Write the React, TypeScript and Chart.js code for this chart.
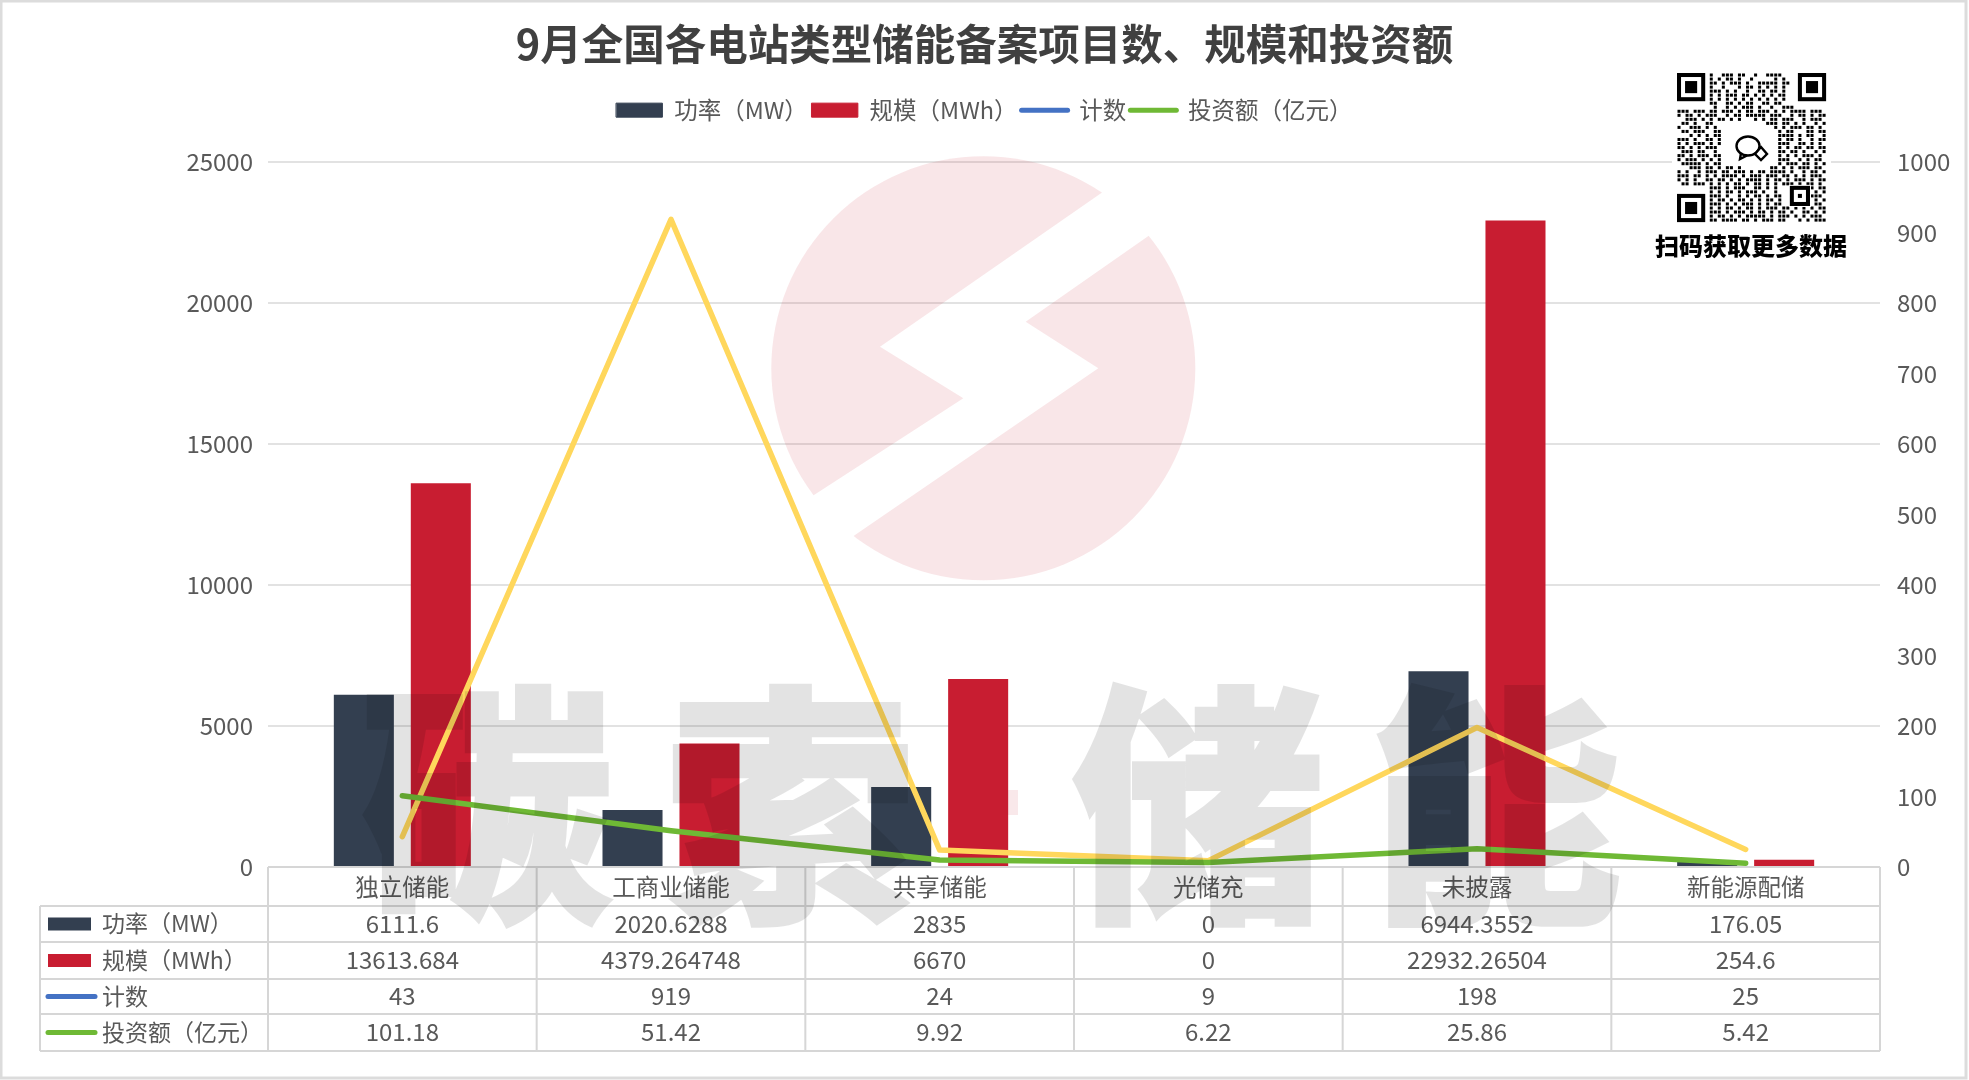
import React, { useEffect, useRef } from "react";
import { Chart, registerables } from "chart.js";

Chart.register(...registerables);

const FONT = '"Noto Sans CJK SC", "Noto Sans", sans-serif';
const TEXT_COLOR = "#595959";
const LINE_COLOR = "#d6d6d6";

const titleText = "9月全国各电站类型储能备案项目数、规模和投资额";
const categories = ["独立储能", "工商业储能", "共享储能", "光储充", "未披露", "新能源配储"];
const powerMW = [6111.6, 2020.6288, 2835, 0, 6944.3552, 176.05];
const scaleMWh = [13613.684, 4379.264748, 6670, 0, 22932.26504, 254.6];
const countValues = [43, 919, 24, 9, 198, 25];
const investValues = [101.18, 51.42, 9.92, 6.22, 25.86, 5.42];

const seriesNames = ["功率（MW）", "规模（MWh）", "计数", "投资额（亿元）"];
const seriesColors = ["#333F50", "#C81D31", "#FFD75C", "#6FB935"];
const keyColors = ["#333F50", "#C81D31", "#4472C4", "#6FB935"];
const keyStyles = ["rect", "rect", "line", "line"];
const seriesValues = [powerMW, scaleMWh, countValues, investValues];

const tableRowLines = [867, 906, 942, 979, 1014, 1051];
const tableLeft = 40;

const watermarkChars = ["碳", "索", "储", "能"];
const watermarkCenters = [487, 790, 1198, 1495];

const qrCaption = "扫码获取更多数据";
const qrRows = [
  "........#..###.##..#..####...........",
  "........#.#.##.#..#.....#.#..........",
  "........##.#.###.#..#####.##.........",
  "........#..#...#.##.#.#.#.#..........",
  "........###.#.#..#..##.##.#..........",
  "........#.#.###.##.#.#.#.##..........",
  "........#.#.#.#.#.#.#.#.#.#..........",
  "........##..##.#.##..##.##...........",
  ".........#..#.#.###.#..#..###........",
  "###.###.##.###.#.##.###.#.#.####.###.",
  "#.##.#.###..#.##.#####.###..#.##.#.##",
  "..###.#.#.##.#.#...#.#.##.###..#.###.",
  ".##.#..##.............###.##.#.#..#.#",
  "#..###.#.#..............#.#.###.##.#.",
  ".##.###..##..............#.##...##.##.",
  "...#.#.#.##..............####.#.##..#",
  "###.#..##.#..............#.##.#..#.##",
  "#.#.###.#.#..............###..##.#.#.",
  "##.#.#.###...............#.#.##.##.##",
  ".###.##..#...............##.##.#..#.#",
  "##.#.###.##..............#.#.#.###.#.",
  "#.###.#.#.#..............###..#.#.##.",
  ".#####.#.##..............#.###.##.#.#",
  "...###.##.#.##.#.......##.#.#.###.##.",
  "#.#..#.###.##.###.#.##.####.#..#.##.#",
  "###.##.#.#.####.#.###.###.##.#.#.###.",
  "#.#.#..##.##.#.#.####.#.##.#.###.#.##",
  ".##.###.#.#.#.##.#.##.#.#.###.#.##.#.",
  "........###.#.###..##.#.#......#.#.##",
  "........#.#.##.#.###.#..#......##.#.#",
  "........###.#..#.#.##.#.##.....#.###.",
  "........#.##.#.##.#.#.##.#.....##.#.#",
  "........###.#.#.###.#.#.##...##.#.##.",
  "........#.#.##.#.##.#.###.##.#.#.#.##",
  "........###.#.###.#.##.#.##.#..##.#.#",
  "........#.##.#.#.#####.#.###.#.#.###.",
  "........##.####.##.#.###.##...#.#.###",
];

const pageBackground = {
  id: "pageBackground",
  beforeDraw(chart: any) {
    const { ctx, width, height } = chart;
    ctx.save();
    ctx.fillStyle = "#ffffff";
    ctx.fillRect(0, 0, width, height);
    ctx.strokeStyle = "#dcdcdc";
    ctx.lineWidth = 3;
    ctx.strokeRect(1, 1, width - 4, height - 3);
    ctx.restore();
  },
};

const logoWatermark = {
  id: "logoWatermark",
  beforeDatasetsDraw(chart: any) {
    const { ctx } = chart;
    const px = (x: number) => 740 + x / 3;
    const py = (y: number) => 140 + y / 3;
    const cut = [
      [1283, 20], [1083, 160], [420, 620], [670, 775], [222, 1065], [72, 1162],
      [195, 1288], [345, 1185], [1075, 685], [857, 545], [1222, 290], [1422, 150],
    ];
    ctx.save();
    ctx.beginPath();
    ctx.arc(983.3, 368.3, 212, 0, Math.PI * 2);
    ctx.clip();
    ctx.beginPath();
    ctx.rect(700, 100, 600, 600);
    cut.forEach(([x, y], i) => (i ? ctx.lineTo(px(x), py(y)) : ctx.moveTo(px(x), py(y))));
    ctx.closePath();
    ctx.fillStyle = "rgba(200, 30, 50, 0.11)";
    ctx.fill("evenodd");
    ctx.restore();
  },
};

const dataTable = {
  id: "dataTable",
  beforeDatasetsDraw(chart: any) {
    const { ctx, chartArea, scales } = chart;
    const colW = chartArea.width / categories.length;
    ctx.save();
    ctx.strokeStyle = LINE_COLOR;
    ctx.lineWidth = 2;
    ctx.beginPath();
    tableRowLines.forEach((y, i) => {
      ctx.moveTo(i === 0 ? chartArea.left : tableLeft, y);
      ctx.lineTo(chartArea.right, y);
    });
    for (let i = 0; i <= categories.length; i++) {
      const x = chartArea.left + i * colW;
      ctx.moveTo(x, tableRowLines[0]);
      ctx.lineTo(x, tableRowLines[5]);
    }
    ctx.moveTo(tableLeft, tableRowLines[1]);
    ctx.lineTo(tableLeft, tableRowLines[5]);
    ctx.stroke();

    ctx.textBaseline = "middle";
    seriesNames.forEach((name, r) => {
      const cy = (tableRowLines[r + 1] + tableRowLines[r + 2]) / 2 - 0.5;
      if (keyStyles[r] === "rect") {
        ctx.fillStyle = keyColors[r];
        ctx.fillRect(48, cy - 6, 43, 13);
      } else {
        ctx.strokeStyle = keyColors[r];
        ctx.lineWidth = 5;
        ctx.lineCap = "round";
        ctx.beginPath();
        ctx.moveTo(48, cy + 0.5);
        ctx.lineTo(95, cy + 0.5);
        ctx.stroke();
      }
      ctx.fillStyle = TEXT_COLOR;
      ctx.textAlign = "left";
      ctx.font = `23px ${FONT}`;
      ctx.fillText(name, 102, cy);
      ctx.textAlign = "center";
      ctx.font = `24px ${FONT}`;
      seriesValues[r].forEach((v, c) => {
        ctx.fillText(String(v), scales.x.getPixelForValue(c), cy);
      });
    });
    ctx.restore();
  },
};

const topWatermark = {
  id: "topWatermark",
  afterDraw(chart: any) {
    const { ctx, width, height } = chart;
    const off = document.createElement("canvas");
    off.width = width;
    off.height = height;
    const o = off.getContext("2d") as CanvasRenderingContext2D;
    o.font = `900 252px ${FONT}`;
    o.textAlign = "center";
    o.textBaseline = "middle";
    o.fillStyle = "#000";
    o.strokeStyle = "#000";
    o.lineWidth = 4;
    o.lineJoin = "miter";
    watermarkChars.forEach((ch, i) => {
      o.fillText(ch, watermarkCenters[i], 806);
      o.strokeText(ch, watermarkCenters[i], 806);
    });
    ctx.save();
    ctx.globalAlpha = 0.105;
    ctx.drawImage(off, 0, 0);
    ctx.globalAlpha = 1;
    ctx.fillStyle = "rgba(200, 30, 50, 0.1)";
    ctx.fillRect(1000, 790, 18, 25);
    ctx.restore();
  },
};

const qrBlock = {
  id: "qrBlock",
  afterDraw(chart: any) {
    const { ctx } = chart;
    const x0 = 1677;
    const y0 = 73;
    const m = 4.03;
    ctx.save();
    ctx.fillStyle = "#ffffff";
    ctx.fillRect(1672, 68, 159, 160);
    ctx.fillStyle = "#000000";
    qrRows.forEach((row, r) => {
      for (let c = 0; c < row.length && c < 37; c++) {
        if (row[c] === "#") ctx.fillRect(x0 + c * m + 0.5, y0 + r * m + 0.5, m - 1, m - 1);
      }
    });
    const finder = (cx: number, cy: number) => {
      const fx = x0 + cx * m;
      const fy = y0 + cy * m;
      ctx.fillStyle = "#ffffff";
      ctx.fillRect(fx - m, fy - m, 9 * m, 9 * m);
      ctx.fillStyle = "#000000";
      ctx.fillRect(fx, fy, 7 * m, 7 * m);
      ctx.fillStyle = "#ffffff";
      ctx.fillRect(fx + m, fy + m, 5 * m, 5 * m);
      ctx.fillStyle = "#000000";
      ctx.fillRect(fx + 2 * m, fy + 2 * m, 3 * m, 3 * m);
    };
    finder(0, 0);
    finder(30, 0);
    finder(0, 30);
    const ax = x0 + 28 * m;
    const ay = y0 + 28 * m;
    ctx.fillStyle = "#ffffff";
    ctx.fillRect(ax - 1, ay - 1, 5 * m + 2, 5 * m + 2);
    ctx.fillStyle = "#000000";
    ctx.fillRect(ax, ay, 5 * m, 5 * m);
    ctx.fillStyle = "#ffffff";
    ctx.fillRect(ax + m, ay + m, 3 * m, 3 * m);
    ctx.fillStyle = "#000000";
    ctx.fillRect(ax + 2 * m, ay + 2 * m, m, m);

    ctx.strokeStyle = "#000000";
    ctx.lineWidth = 2.4;
    ctx.beginPath();
    ctx.ellipse(1748, 146, 11.5, 9.5, 0, 0, Math.PI * 2);
    ctx.stroke();
    ctx.beginPath();
    ctx.moveTo(1741, 153);
    ctx.lineTo(1740, 159);
    ctx.lineTo(1747, 155.5);
    ctx.stroke();
    ctx.fillStyle = "#ffffff";
    ctx.beginPath();
    ctx.moveTo(1761, 147);
    ctx.lineTo(1767, 154);
    ctx.lineTo(1761, 160);
    ctx.lineTo(1755, 154);
    ctx.closePath();
    ctx.fill();
    ctx.stroke();

    ctx.fillStyle = "#000000";
    ctx.font = `900 24px ${FONT}`;
    ctx.textAlign = "center";
    ctx.textBaseline = "middle";
    ctx.fillText(qrCaption, 1751, 246);
    ctx.restore();
  },
};

export default function App() {
  const ref = useRef<HTMLCanvasElement | null>(null);

  useEffect(() => {
    if (!ref.current) return;
    const lineBase = {
      type: "line" as const,
      yAxisID: "y1",
      borderWidth: 5.5,
      pointRadius: 0,
      tension: 0,
      borderCapStyle: "round" as const,
      borderJoinStyle: "round" as const,
      fill: false,
    };
    const barBase = {
      type: "bar" as const,
      yAxisID: "y",
      barPercentage: 0.78,
      categoryPercentage: 0.573,
    };
    const chart = new Chart(ref.current, {
      data: {
        labels: categories,
        datasets: [
          { ...barBase, label: seriesNames[0], data: powerMW, backgroundColor: seriesColors[0], order: 2 },
          { ...barBase, label: seriesNames[1], data: scaleMWh, backgroundColor: seriesColors[1], order: 3 },
          { ...lineBase, label: seriesNames[2], data: countValues, borderColor: seriesColors[2], backgroundColor: seriesColors[2], order: 1 },
          { ...lineBase, label: seriesNames[3], data: investValues, borderColor: seriesColors[3], backgroundColor: seriesColors[3], order: 0 },
        ],
      } as any,
      options: {
        responsive: false,
        animation: false,
        devicePixelRatio: 1,
        font: { family: FONT },
        layout: { padding: 0 },
        plugins: {
          tooltip: { enabled: false },
          title: {
            display: true,
            text: titleText,
            color: "#404040",
            font: { family: FONT, size: 41.5, weight: "bold" },
            padding: { top: 19, bottom: 25.6 },
          },
          subtitle: {
            display: true,
            text: "",
            weight: 500,
            font: { size: 1 },
            padding: { top: 0, bottom: 29.2 },
          },
          legend: {
            display: true,
            position: "top",
            labels: {
              usePointStyle: true,
              pointStyleWidth: 46,
              boxHeight: 14,
              padding: 4,
              color: TEXT_COLOR,
              font: { family: FONT, size: 23.5 },
              generateLabels: () =>
                seriesNames.map((name, i) => ({
                  text: name,
                  fillStyle: keyColors[i],
                  strokeStyle: keyColors[i],
                  fontColor: TEXT_COLOR,
                  lineWidth: keyStyles[i] === "line" ? 5 : 1,
                  lineCap: "round",
                  pointStyle: keyStyles[i],
                  hidden: false,
                  datasetIndex: i,
                })) as any,
            },
          },
        },
        scales: {
          x: {
            offset: true,
            grid: { display: false },
            border: { display: false },
            ticks: {
              color: TEXT_COLOR,
              font: { family: FONT, size: 23.5 },
              padding: -2.5,
              autoSkip: false,
              maxRotation: 0,
              minRotation: 0,
            },
            afterFit: (s: any) => {
              s.height = 213;
            },
          },
          y: {
            position: "left",
            min: 0,
            max: 25000,
            grid: { color: "#e2e2e2", lineWidth: 2, drawTicks: false },
            border: { display: false },
            ticks: {
              stepSize: 5000,
              format: { useGrouping: false },
              color: TEXT_COLOR,
              font: { family: FONT, size: 24 },
              padding: 15,
            },
            afterFit: (s: any) => {
              s.width = 268;
            },
          },
          y1: {
            position: "right",
            min: 0,
            max: 1000,
            grid: { display: false, drawTicks: false },
            border: { display: false },
            ticks: {
              stepSize: 100,
              format: { useGrouping: false },
              color: TEXT_COLOR,
              font: { family: FONT, size: 24 },
              padding: 17,
            },
            afterFit: (s: any) => {
              s.width = 89;
            },
          },
        },
      } as any,
      plugins: [pageBackground, logoWatermark, dataTable, topWatermark, qrBlock],
    });
    return () => chart.destroy();
  }, []);

  return (
    <canvas
      ref={ref}
      width={1969}
      height={1080}
      style={{ position: "fixed", left: 0, top: 0, width: 1969, height: 1080, display: "block" }}
    />
  );
}
